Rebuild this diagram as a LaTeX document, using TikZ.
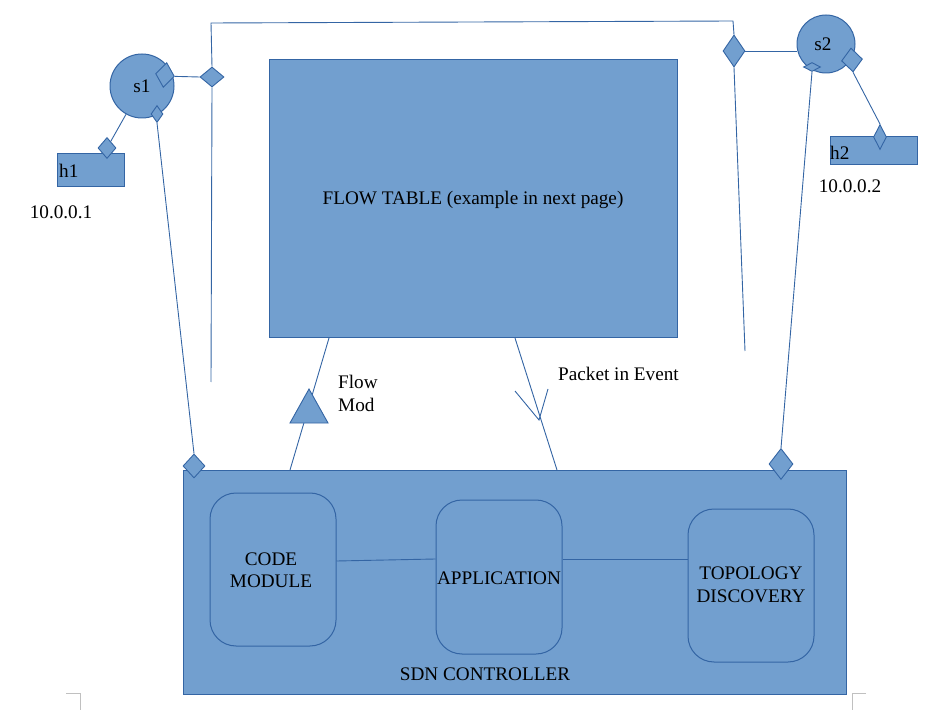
\documentclass[tikz,border=0pt]{standalone}
\usepackage{fontspec}
\setmainfont{Liberation Serif}
\usetikzlibrary{shapes.geometric,arrows.meta}
\definecolor{bfill}{HTML}{729FCF}
\definecolor{bline}{HTML}{3465A4}
\definecolor{cornergray}{HTML}{C0C0C0}
\tikzset{
  wire/.style={draw=bline, line width=0.9pt},
  blk/.style={draw=bline, fill=bfill, line width=1pt, inner sep=0pt, rectangle},
  rbox/.style={draw=bline, fill=bfill, line width=1pt, rounded corners=26pt, inner sep=0pt, rectangle},
  sw/.style={draw=bline, fill=bfill, line width=1pt, circle, inner sep=0pt},
  port/.style={draw=bline, fill=bfill, line width=0.9pt, diamond, inner sep=0pt},
  lbl/.style={font=\fontsize{19.2}{22.5}\selectfont, inner sep=0pt, align=center},
  cornermark/.style={draw=cornergray, line width=0.8pt},
}
\begin{document}
\begin{tikzpicture}[x=1pt,y=-1pt]
\useasboundingbox (0,0) rectangle (935,719);
% page corner marks
\draw[cornermark] (66,693) -- (80,693) -- (80,710);
\draw[cornermark] (866,693) -- (852,693) -- (852,710);

% main blocks
\node[blk, minimum width=408pt, minimum height=278pt] (ft) at (473,199) {};
\node[lbl] (ftt) at (473,200) {FLOW TABLE (example in next page)};
\node[blk, minimum width=663pt, minimum height=224pt] (ctl) at (514.5,582) {};
\node[rbox, minimum width=126pt, minimum height=153pt] (cm) at (273,569.5) {};
\node[rbox, minimum width=126pt, minimum height=154pt] (app) at (499,577) {};
\node[rbox, minimum width=126pt, minimum height=153pt] (topo) at (751,585.5) {};
\node[lbl] at (271,570) {CODE\\MODULE};
\node[lbl] at (499,578) {APPLICATION};
\node[lbl] at (751,585) {TOPOLOGY\\DISCOVERY};
\node[lbl] (sdn) at (485,674) {SDN CONTROLLER};
\draw[wire] (cm.east |- 0,561) -- (app.west |- 0,559);
\draw[wire] (app.east |- 0,559) -- (topo.west |- 0,559);

% hosts and switches
\node[blk, minimum width=67pt, minimum height=33pt] (h1) at (90.5,170.5) {};
\node[lbl, anchor=west] at (59,171) {h1};
\node[lbl] at (61,212) {10.0.0.1};
\node[blk, minimum width=87pt, minimum height=28pt] (h2) at (873.5,151) {};
\node[lbl, anchor=west] at (830,153) {h2};
\node[lbl] at (850,186) {10.0.0.2};
\node[sw, minimum size=64pt] (s1) at (142,86) {};
\node[lbl] at (142,86) {s1};
\node[sw, minimum size=58pt] (s2) at (826,44) {};
\node[lbl] at (823,44) {s2};

% ports
\node[port, minimum width=19pt, minimum height=25pt, rotate=-8] (s1r) at (165,75) {};
\node[port, minimum width=12pt, minimum height=17pt] (s1b) at (157,114) {};
\node[port, minimum width=18pt, minimum height=21pt] (h1p) at (107,148) {};
\node[port, minimum width=24pt, minimum height=20pt] (d1) at (212,77) {};
\node[port, minimum width=22pt, minimum height=32pt] (d2) at (734,51) {};
\node[port, minimum width=21pt, minimum height=24pt, rotate=5] (s2r) at (852,60) {};
\node[port, minimum width=17pt, minimum height=9pt] (s2b) at (812,67) {};
\node[port, minimum width=13pt, minimum height=25pt] (h2p) at (880,137) {};
\node[port, minimum width=22pt, minimum height=24pt] (c1) at (194,466) {};
\node[port, minimum width=24pt, minimum height=31pt] (c2) at (781,464) {};

% wires
\coordinate (tl) at (211,23);
\coordinate (tr) at (733,21);
\coordinate (e1) at (211,382);
\coordinate (e2) at (745,351);
\draw[wire] (s1r.east) -- (d1.west);
\draw[wire] (d1.north) -- (tl) -- (tr) -- (d2.north);
\draw[wire] (d1.south) -- (e1);
\draw[wire] (d2.south) -- (e2);
\draw[wire] (d2.east) -- (s2.west |- d2.east);
\draw[wire] (s1) -- (h1p);
\draw[wire] (s1b.south) -- (c1.north);
\draw[wire] (s2b.south) -- (c2.north);
\draw[wire] (s2r.south) -- (h2p.north);

% flow mod
\coordinate (fm1) at (329,338);
\coordinate (fm2) at (290,470);
\draw[wire] (fm1) -- (fm2);
\draw[draw=bline, fill=bfill, line width=0.9pt] (309,389) -- (290,423) -- (328,423) -- cycle;
\node[lbl, anchor=north west, align=left] at (338,375) {Flow\\Mod};

% packet in event
\coordinate (pk1) at (515,338);
\coordinate (pk2) at (557,470);
\draw[wire] (pk1) -- (pk2);
\draw[wire] (515,391) -- (539,420) -- (548,389);
\node[lbl, anchor=west] at (558,374) {Packet in Event};
\end{tikzpicture}
\end{document}
